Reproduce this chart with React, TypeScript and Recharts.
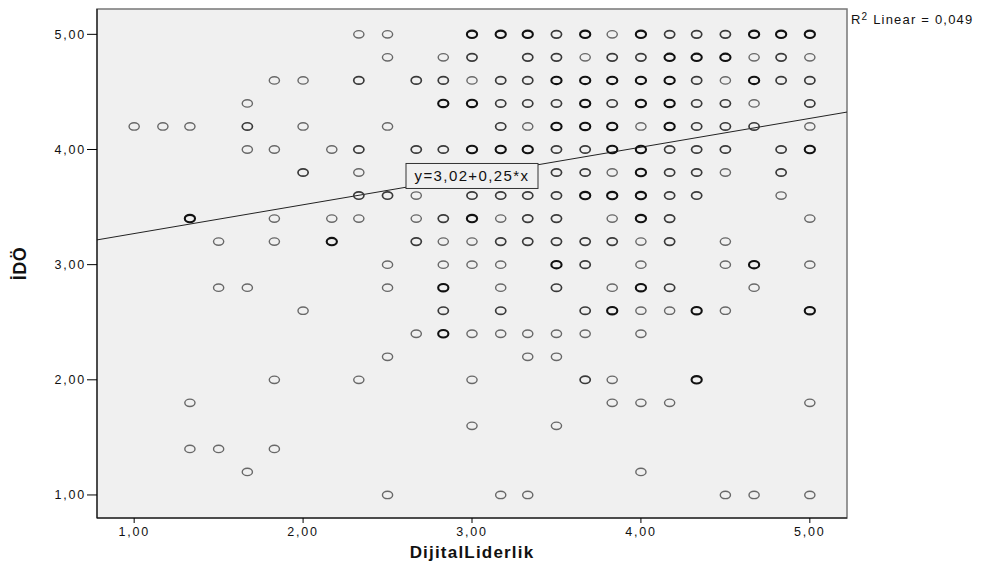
import React from 'react';
import {
  CartesianGrid,
  ReferenceArea,
  ReferenceDot,
  ReferenceLine,
  Scatter,
  ScatterChart,
  XAxis,
  YAxis,
} from 'recharts';

// each row: y value (İDÖ) and [DijitalLiderlik, overlap count] pairs
const row500: [number, number][] = [[2.33, 1], [2.5, 1], [3, 3], [3.17, 3], [3.33, 3], [3.5, 2], [3.67, 3], [3.83, 1], [4, 3], [4.17, 2], [4.33, 2], [4.5, 2], [4.67, 3], [4.83, 3], [5, 3]];
const row480: [number, number][] = [[2.5, 1], [2.83, 1], [3, 2], [3.33, 2], [3.5, 2], [3.67, 1], [3.83, 2], [4, 2], [4.17, 3], [4.33, 3], [4.5, 3], [4.67, 1], [4.83, 2], [5, 1]];
const row460: [number, number][] = [[1.83, 1], [2, 1], [2.33, 2], [2.67, 2], [2.83, 2], [3, 1], [3.17, 2], [3.33, 2], [3.5, 3], [3.67, 3], [3.83, 3], [4, 3], [4.17, 3], [4.33, 2], [4.5, 1], [4.67, 3], [4.83, 2], [5, 2]];
const row440: [number, number][] = [[1.67, 1], [2.83, 3], [3, 3], [3.17, 2], [3.33, 2], [3.5, 2], [3.67, 3], [3.83, 2], [4, 3], [4.17, 3], [4.33, 2], [4.5, 2], [4.67, 1], [5, 2]];
const row420: [number, number][] = [[1, 1], [1.17, 1], [1.33, 1], [1.67, 2], [2, 1], [2.5, 1], [3.17, 2], [3.33, 1], [3.5, 3], [3.67, 3], [3.83, 3], [4, 1], [4.17, 3], [4.33, 2], [4.5, 2], [4.67, 2], [5, 1]];
const row400: [number, number][] = [[1.67, 1], [1.83, 1], [2.17, 1], [2.33, 2], [2.67, 2], [2.83, 2], [3, 3], [3.17, 3], [3.33, 3], [3.5, 2], [3.67, 2], [3.83, 3], [4, 3], [4.17, 2], [4.33, 2], [4.5, 2], [4.83, 2], [5, 3]];
const row380: [number, number][] = [[2, 2], [2.33, 1], [3.5, 2], [3.67, 2], [3.83, 1], [4, 3], [4.17, 2], [4.33, 2], [4.5, 1], [4.83, 2]];
const row360: [number, number][] = [[2.33, 2], [2.5, 2], [2.67, 1], [3, 2], [3.17, 2], [3.33, 2], [3.5, 2], [3.67, 3], [3.83, 3], [4, 3], [4.17, 2], [4.33, 2], [4.83, 1]];
const row340: [number, number][] = [[1.33, 3], [1.83, 1], [2.17, 1], [2.33, 1], [2.67, 1], [2.83, 2], [3, 3], [3.17, 1], [3.33, 2], [3.5, 2], [3.83, 1], [4, 3], [4.17, 2], [5, 1]];
const row320: [number, number][] = [[1.5, 1], [1.83, 1], [2.17, 3], [2.67, 2], [2.83, 1], [3, 1], [3.17, 2], [3.33, 2], [3.5, 2], [3.67, 2], [3.83, 2], [4, 1], [4.17, 2], [4.5, 1]];
const row300: [number, number][] = [[2.5, 1], [2.83, 1], [3, 1], [3.17, 1], [3.5, 3], [3.67, 2], [4, 1], [4.5, 1], [4.67, 3], [5, 1]];
const row280: [number, number][] = [[1.5, 1], [1.67, 1], [2.5, 1], [2.83, 3], [3.17, 1], [3.5, 2], [3.83, 1], [4, 3], [4.17, 2], [4.67, 1]];
const row260: [number, number][] = [[2, 1], [2.83, 2], [3.17, 2], [3.67, 2], [3.83, 3], [4, 1], [4.17, 1], [4.33, 3], [4.5, 1], [5, 3]];
const row240: [number, number][] = [[2.67, 1], [2.83, 3], [3, 1], [3.17, 1], [3.33, 1], [3.5, 1], [3.67, 1], [4, 1]];
const row220: [number, number][] = [[2.5, 1], [3.33, 1], [3.5, 1]];
const row200: [number, number][] = [[1.83, 1], [2.33, 1], [3, 1], [3.67, 2], [3.83, 1], [4.33, 3]];
const row180: [number, number][] = [[1.33, 1], [3.83, 1], [4, 1], [4.17, 1], [5, 1]];
const row160: [number, number][] = [[3, 1], [3.5, 1]];
const row140: [number, number][] = [[1.33, 1], [1.5, 1], [1.83, 1]];
const row120: [number, number][] = [[1.67, 1], [4, 1]];
const row100: [number, number][] = [[2.5, 1], [3.17, 1], [3.33, 1], [4.5, 1], [4.67, 1], [5, 1]];

const rows: { y: number; pts: [number, number][] }[] = [
  { y: 5.0, pts: row500 }, { y: 4.8, pts: row480 }, { y: 4.6, pts: row460 },
  { y: 4.4, pts: row440 }, { y: 4.2, pts: row420 }, { y: 4.0, pts: row400 },
  { y: 3.8, pts: row380 }, { y: 3.6, pts: row360 }, { y: 3.4, pts: row340 },
  { y: 3.2, pts: row320 }, { y: 3.0, pts: row300 }, { y: 2.8, pts: row280 },
  { y: 2.6, pts: row260 }, { y: 2.4, pts: row240 }, { y: 2.2, pts: row220 },
  { y: 2.0, pts: row200 }, { y: 1.8, pts: row180 }, { y: 1.6, pts: row160 },
  { y: 1.4, pts: row140 }, { y: 1.2, pts: row120 }, { y: 1.0, pts: row100 },
];

const xTicks = [1, 2, 3, 4, 5];
const yTicks = [1, 2, 3, 4, 5];
const X_DOMAIN: [number, number] = [0.78, 5.22];
const Y_DOMAIN: [number, number] = [0.8, 5.22];

// fit line
const intercept = 3.02;
const slope = 0.25;
const rSquared = 0.049;
const eqLabelAt = { x: 3.0, y: 3.77 };

const comma = (v: number, d = 2) => v.toFixed(d).replace('.', ',');

const points = rows.flatMap((row) => row.pts.map(([x, n]) => ({ x, y: row.y, n })));

const tickFont = { fontFamily: 'Liberation Sans, Arial', fontSize: 12.5, fill: '#111', letterSpacing: 1.8 };

const strokeFor = (n: number) => (n >= 3 ? '#111' : n === 2 ? '#3a3a3a' : '#686868');
const widthFor = (n: number) => (n >= 3 ? 2.1 : n === 2 ? 1.7 : 1.4);

const Ring = (props: any) => {
  const { cx, cy, payload } = props;
  if (cx == null || cy == null) return null;
  const n = payload?.n ?? 1;
  return (
    <ellipse cx={cx} cy={cy} rx={5.1} ry={3.7} fill="none" stroke={strokeFor(n)} strokeWidth={widthFor(n)} />
  );
};

const EquationBox = (props: any) => {
  const { cx, cy } = props;
  if (cx == null || cy == null) return null;
  const w = 132;
  const h = 25;
  return (
    <g>
      <rect x={cx - w / 2} y={cy - h / 2} width={w} height={h} fill="#f0f0f0" stroke="#333" strokeWidth={1} />
      <text
        x={cx}
        y={cy + 5}
        textAnchor="middle"
        fontFamily="Liberation Sans, Arial"
        fontSize={15}
        letterSpacing={1.4}
        fill="#111"
      >
        {`y=${comma(intercept)}+${comma(slope)}*x`}
      </text>
    </g>
  );
};

const YTitle = (props: any) => {
  const vb = props.viewBox || { y: 9, height: 509 };
  const cy = vb.y + vb.height / 2;
  return (
    <text
      x={20}
      y={cy}
      transform={`rotate(-90 20 ${cy})`}
      textAnchor="middle"
      dominantBaseline="central"
      fontFamily="Liberation Sans, Arial"
      fontWeight="bold"
      fontSize={18}
      letterSpacing={0.5}
      fill="#111"
    >
      İDÖ
    </text>
  );
};

const XTitle = (props: any) => {
  const vb = props.viewBox || { x: 97, width: 750 };
  const cx = vb.x + vb.width / 2;
  return (
    <text
      x={cx}
      y={558}
      textAnchor="middle"
      fontFamily="Liberation Sans, Arial"
      fontWeight="bold"
      fontSize={17}
      letterSpacing={1.2}
      fill="#111"
    >
      DijitalLiderlik
    </text>
  );
};

export default function App() {
  return (
    <div style={{ position: 'absolute', left: 0, top: 0, width: 987, height: 576, background: '#fff' }}>
      <ScatterChart width={987} height={576} margin={{ top: 9, right: 140, bottom: 0, left: 0 }}>
        <CartesianGrid fill="#f0f0f0" horizontal={false} vertical={false} />
        <ReferenceArea
          x1={X_DOMAIN[0]}
          x2={X_DOMAIN[1]}
          y1={Y_DOMAIN[0]}
          y2={Y_DOMAIN[1]}
          fill="none"
          fillOpacity={0}
          stroke="#777"
          strokeWidth={1.5}
          ifOverflow="extendDomain"
        />
        <XAxis
          type="number"
          dataKey="x"
          domain={X_DOMAIN}
          ticks={xTicks}
          allowDataOverflow
          height={58}
          tickSize={5}
          tickMargin={4}
          tickFormatter={(v: number) => comma(v)}
          tick={tickFont}
          axisLine={{ stroke: '#000' }}
          tickLine={{ stroke: '#000' }}
          label={<XTitle />}
        />
        <YAxis
          type="number"
          dataKey="y"
          domain={Y_DOMAIN}
          ticks={yTicks}
          allowDataOverflow
          width={97}
          tickSize={10}
          tickMargin={1}
          tickFormatter={(v: number) => comma(v)}
          tick={tickFont}
          axisLine={{ stroke: '#000' }}
          tickLine={{ stroke: '#000' }}
          label={<YTitle />}
        />
        <Scatter data={points} shape={<Ring />} isAnimationActive={false} />
        <ReferenceLine
          segment={[
            { x: X_DOMAIN[0], y: intercept + slope * X_DOMAIN[0] },
            { x: X_DOMAIN[1], y: intercept + slope * X_DOMAIN[1] },
          ]}
          stroke="#222"
          strokeWidth={1}
        />
        <ReferenceDot x={eqLabelAt.x} y={eqLabelAt.y} r={1} shape={<EquationBox />} />
      </ScatterChart>
      <div
        style={{
          position: 'absolute',
          left: 851,
          top: 12,
          fontFamily: 'Liberation Sans, Arial',
          fontSize: 13,
          letterSpacing: 1.2,
          color: '#111',
          whiteSpace: 'nowrap',
          lineHeight: '16px',
        }}
      >
        R<sup style={{ fontSize: 10, verticalAlign: 'top', lineHeight: '10px' }}>2</sup> Linear = {comma(rSquared, 3)}
      </div>
    </div>
  );
}
